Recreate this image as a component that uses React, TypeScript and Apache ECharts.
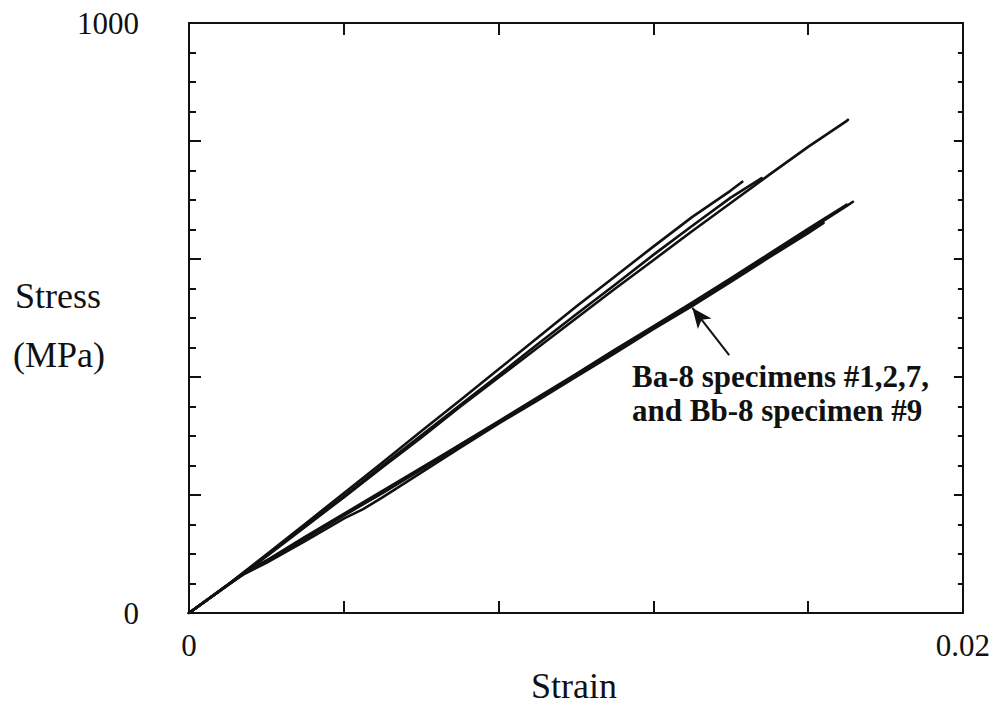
import React, { useEffect, useRef } from "react";
import * as echarts from "echarts";

// Stress–strain records, strain (–) against stress (MPa)
// Upper bundle: stiffer specimens
const strainU1 = [0, 0.001, 0.002, 0.003, 0.004, 0.005, 0.006, 0.007, 0.008, 0.009, 0.01, 0.011, 0.012, 0.013, 0.014, 0.0143];
const stressU1 = [0, 48, 99, 151, 203, 255, 308, 360, 413, 466, 519, 570, 621, 671, 716, 731];

const strainU2 = [0, 0.001, 0.002, 0.003, 0.004, 0.005, 0.006, 0.007, 0.008, 0.009, 0.01, 0.011, 0.012, 0.013, 0.014, 0.0148];
const stressU2 = [0, 48, 97, 148, 198, 250, 301, 352, 403, 455, 506, 556, 607, 656, 704, 737];

const strainU3 = [0, 0.001, 0.002, 0.003, 0.004, 0.005, 0.006, 0.007, 0.008, 0.009, 0.01, 0.011, 0.012, 0.013, 0.014, 0.015, 0.016, 0.017, 0.01703];
const stressU3 = [0, 47, 96, 146, 196, 247, 297, 349, 399, 449, 499, 549, 598, 647, 695, 743, 790, 834, 836];

// Lower bundle: Ba-8 specimens #1, 2, 7 and Bb-8 specimen #9
const strainL1 = [0, 0.001, 0.0014, 0.002, 0.003, 0.004, 0.005, 0.006, 0.007, 0.008, 0.009, 0.01, 0.011, 0.012, 0.013, 0.014, 0.015, 0.016, 0.017, 0.01716];
const stressL1 = [0, 47, 66, 87, 126, 165, 204, 243, 283, 323, 363, 403, 443, 483, 523, 565, 606, 648, 690, 697];

const strainL2 = [0, 0.001, 0.0014, 0.002, 0.003, 0.004, 0.005, 0.006, 0.007, 0.008, 0.009, 0.01, 0.011, 0.012, 0.013, 0.014, 0.015, 0.016, 0.0165];
const stressL2 = [0, 47, 66, 88, 128, 166, 203, 244, 285, 324, 362, 404, 445, 484, 522, 563, 605, 650, 671];

const strainL3 = [0, 0.001, 0.0014, 0.002, 0.003, 0.004, 0.0045, 0.005, 0.006, 0.007, 0.008, 0.009, 0.01, 0.011, 0.012, 0.013, 0.014, 0.015, 0.016, 0.0164];
const stressL3 = [0, 47, 65, 85, 122, 160, 176, 196, 238, 280, 321, 360, 400, 440, 481, 520, 561, 603, 644, 661];

const strainL4 = [0, 0.001, 0.0014, 0.002, 0.003, 0.004, 0.005, 0.006, 0.007, 0.008, 0.009, 0.01, 0.011, 0.012, 0.013, 0.014, 0.015, 0.016, 0.017];
const stressL4 = [0, 48, 67, 89, 129, 168, 207, 246, 285, 325, 365, 405, 446, 486, 526, 567, 609, 651, 692];

// Axis ranges and shown tick labels
const X_MIN = 0;
const X_MAX = 0.02;
const X_STEP = 0.004;
const Y_MIN = 0;
const Y_MAX = 1000;
const Y_STEP = 200;
const xTickLabels = [0, 0.02];
const yTickLabels = [0, 1000];

// Callout arrow (tail, head) in data units
const arrowTail = [0.01396, 437];
const arrowHead = [0.01301, 517];
const calloutLines = ["Ba-8 specimens #1,2,7,", "and Bb-8 specimen #9"];

const INK = "#111";
const SERIF = "'Liberation Serif', 'Times New Roman', serif";

const pairs = (xs: number[], ys: number[]) => xs.map((x, i) => [x, ys[i]]);

const curve = (name: string, xs: number[], ys: number[], extra: any = {}) => ({
  type: "line",
  name,
  data: pairs(xs, ys),
  showSymbol: false,
  symbol: "none",
  silent: true,
  lineStyle: { color: INK, width: 2.6, join: "round", cap: "round" },
  xAxisIndex: 0,
  yAxisIndex: 0,
  ...extra,
});

export default function App() {
  const ref = useRef<HTMLDivElement>(null);

  useEffect(() => {
    if (!ref.current) return;
    const chart = echarts.init(ref.current, null, { renderer: "svg" });

    const axisLine = { show: true, onZero: false, lineStyle: { color: INK, width: 2 } };

    const xBase = {
      type: "value",
      min: X_MIN,
      max: X_MAX,
      interval: X_STEP,
      splitLine: { show: false },
      axisLine,
      axisTick: { show: true, inside: true, length: 12, lineStyle: { color: INK, width: 2 } },
    };
    const yBase = {
      type: "value",
      min: Y_MIN,
      max: Y_MAX,
      interval: Y_STEP,
      splitLine: { show: false },
      axisLine,
      axisTick: { show: true, inside: true, length: 12, lineStyle: { color: INK, width: 2 } },
      minorTick: { show: true, splitNumber: 4, length: 7, lineStyle: { color: INK, width: 2 } },
    };

    chart.setOption({
      animation: false,
      backgroundColor: "#fff",
      grid: { left: 189, top: 23, right: 29, bottom: 94, containLabel: false },
      xAxis: [
        {
          ...xBase,
          position: "bottom",
          axisLabel: {
            show: true,
            margin: 17,
            color: INK,
            fontFamily: SERIF,
            fontSize: 31,
            formatter: (v: number) =>
              xTickLabels.some((t) => Math.abs(t - v) < 1e-9) ? String(v) : "",
          },
        },
        { ...xBase, position: "top", axisLabel: { show: false } },
      ],
      yAxis: [
        {
          ...yBase,
          position: "left",
          axisLabel: {
            show: true,
            margin: 50,
            color: INK,
            fontFamily: SERIF,
            fontSize: 31,
            formatter: (v: number) => (yTickLabels.includes(v) ? String(v) : ""),
          },
        },
        {
          ...yBase,
          position: "right",
          axisLabel: { show: false },
          axisTick: { ...yBase.axisTick, length: 9 },
          minorTick: { ...yBase.minorTick, length: 5 },
        },
      ],
      series: [
        curve("U1", strainU1, stressU1),
        curve("U2", strainU2, stressU2),
        curve("U3", strainU3, stressU3),
        curve("L2", strainL2, stressL2),
        curve("L3", strainL3, stressL3),
        curve("L4", strainL4, stressL4),
        curve("L1", strainL1, stressL1, {
          markLine: {
            silent: true,
            symbol: ["none", "arrow"],
            symbolSize: [13, 20],
            label: { show: false },
            lineStyle: { color: INK, width: 2, type: "solid" },
            data: [[{ coord: arrowTail }, { coord: arrowHead }]],
          },
        }),
      ],
      graphic: [
        {
          type: "text",
          x: 632,
          y: 376,
          style: {
            text: calloutLines[0],
            font: `bold 31px ${SERIF}`,
            fill: INK,
            verticalAlign: "middle",
          },
        },
        {
          type: "text",
          x: 632,
          y: 410,
          style: {
            text: calloutLines[1],
            font: `bold 31px ${SERIF}`,
            fill: INK,
            verticalAlign: "middle",
          },
        },
        {
          type: "text",
          x: 58,
          y: 296,
          style: {
            text: "Stress",
            font: `36px ${SERIF}`,
            fill: INK,
            align: "center",
            verticalAlign: "middle",
          },
        },
        {
          type: "text",
          x: 59,
          y: 355,
          style: {
            text: "(MPa)",
            font: `36px ${SERIF}`,
            fill: INK,
            align: "center",
            verticalAlign: "middle",
          },
        },
        {
          type: "text",
          x: 574,
          y: 686,
          style: {
            text: "Strain",
            font: `36px ${SERIF}`,
            fill: INK,
            align: "center",
            verticalAlign: "middle",
          },
        },
      ],
    });

    return () => chart.dispose();
  }, []);

  return (
    <div
      ref={ref}
      style={{ position: "fixed", left: 0, top: 0, width: 993, height: 707, background: "#fff" }}
    />
  );
}
